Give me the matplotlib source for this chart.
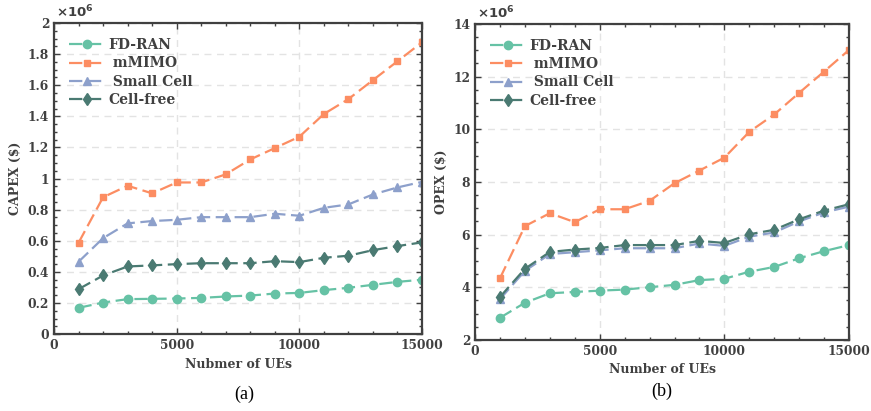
import matplotlib.pyplot as plt
from matplotlib.ticker import MultipleLocator, AutoMinorLocator, FuncFormatter

# number of UEs
n_ues = [1000, 2000, 3000, 4000, 5000, 6000, 7000, 8000,
         9000, 10000, 11000, 12000, 13000, 14000, 15000]

# CAPEX in units of 1e6 $
capex_fdran = [0.169, 0.203, 0.225, 0.227, 0.229, 0.233, 0.242, 0.248,
               0.261, 0.265, 0.283, 0.298, 0.317, 0.336, 0.350]
capex_mmimo = [0.587, 0.880, 0.954, 0.905, 0.975, 0.975, 1.027, 1.123,
               1.196, 1.269, 1.415, 1.511, 1.633, 1.754, 1.876]
capex_small = [0.465, 0.617, 0.712, 0.727, 0.735, 0.752, 0.752, 0.752,
               0.774, 0.761, 0.812, 0.834, 0.898, 0.943, 0.979]
capex_cfree = [0.289, 0.377, 0.435, 0.442, 0.450, 0.456, 0.456, 0.456,
               0.469, 0.463, 0.491, 0.504, 0.540, 0.566, 0.590]

# OPEX in units of 1e6 $
opex_fdran = [2.84, 3.41, 3.77, 3.82, 3.87, 3.91, 4.00, 4.09,
              4.27, 4.32, 4.59, 4.77, 5.10, 5.37, 5.60]
opex_mmimo = [4.34, 6.32, 6.81, 6.47, 6.96, 6.96, 7.28, 7.95,
              8.43, 8.92, 9.90, 10.56, 11.38, 12.19, 13.01]
opex_small = [3.55, 4.62, 5.26, 5.33, 5.40, 5.48, 5.48, 5.48,
              5.66, 5.57, 5.92, 6.08, 6.50, 6.84, 7.06]
opex_cfree = [3.63, 4.70, 5.34, 5.43, 5.49, 5.60, 5.60, 5.60,
              5.76, 5.68, 6.01, 6.18, 6.58, 6.91, 7.15]

labels = ["FD-RAN", " mMIMO", " Small Cell", "Cell-free"]
colors = ["#66c2a5", "#fc8d62", "#8da0cb", "#4a7a72"]
markers = ["o", "s", "^", "d"]
msizes = [6, 5, 6, 6]

TXT = "#404040"
plt.rcParams["font.family"] = "DejaVu Serif"
plt.rcParams["font.weight"] = "bold"

fig = plt.figure(figsize=(8.71, 4.11), dpi=100)
ax1 = fig.add_axes([0.062, 0.187, 0.4225, 0.757])
ax2 = fig.add_axes([0.5454, 0.173, 0.4294, 0.769])


def style_axis(ax, ymin, ymax, ystep, xlabel, ylabel):
    ax.set_xlim(0, 15000)
    ax.set_ylim(ymin, ymax)
    ax.xaxis.set_major_locator(MultipleLocator(5000))
    ax.xaxis.set_minor_locator(MultipleLocator(1000))
    ax.yaxis.set_major_locator(MultipleLocator(ystep))
    ax.yaxis.set_minor_locator(AutoMinorLocator(4))
    ax.yaxis.set_major_formatter(FuncFormatter(lambda v, p: f"{v:g}"))
    ax.tick_params(which="both", direction="in", top=True, right=True,
                   colors=TXT, labelsize=8.8, width=1.0)
    ax.tick_params(which="major", length=4)
    ax.tick_params(which="minor", length=2.5)
    for s in ax.spines.values():
        s.set_color(TXT)
        s.set_linewidth(1.6)
    ax.grid(which="major", linestyle=(0, (5, 4)), color="#e3e3e3", linewidth=1.0)
    ax.set_axisbelow(True)
    ax.set_xlabel(xlabel, fontsize=9, color=TXT, fontweight="bold", labelpad=4)
    ax.set_ylabel(ylabel, fontsize=9, color=TXT, fontweight="bold", labelpad=4)
    ax.text(0.005, 1.008, r"$\times10^6$", transform=ax.transAxes, fontsize=9.5,
            color=TXT, ha="left", va="bottom", fontweight="normal")


def draw(ax, series):
    for ys, lab, c, m, ms in zip(series, labels, colors, markers, msizes):
        ax.plot(n_ues, ys, color=c, marker=m, markersize=ms, linewidth=1.6,
                linestyle=(0, (6, 2.5)), label=lab, markeredgecolor=c)
    leg = ax.legend(loc="upper left", frameon=False, fontsize=10,
                    handlelength=2.6, handletextpad=0.2, labelspacing=0.3,
                    borderaxespad=0.7)
    for t in leg.get_texts():
        t.set_color(TXT)
        t.set_fontweight("bold")


draw(ax1, [capex_fdran, capex_mmimo, capex_small, capex_cfree])
style_axis(ax1, 0, 2, 0.2, "Nubmer of UEs", "CAPEX ($)")

draw(ax2, [opex_fdran, opex_mmimo, opex_small, opex_cfree])
style_axis(ax2, 2, 14, 2, "Number of UEs", "OPEX ($)")

fig.text(0.280, 0.04, "(a)", fontsize=13, family="Liberation Serif",
         fontweight="normal", color="black", ha="center", va="center")
fig.text(0.760, 0.047, "(b)", fontsize=13, family="Liberation Serif",
         fontweight="normal", color="black", ha="center", va="center")

fig.savefig("out.png", dpi=100)
